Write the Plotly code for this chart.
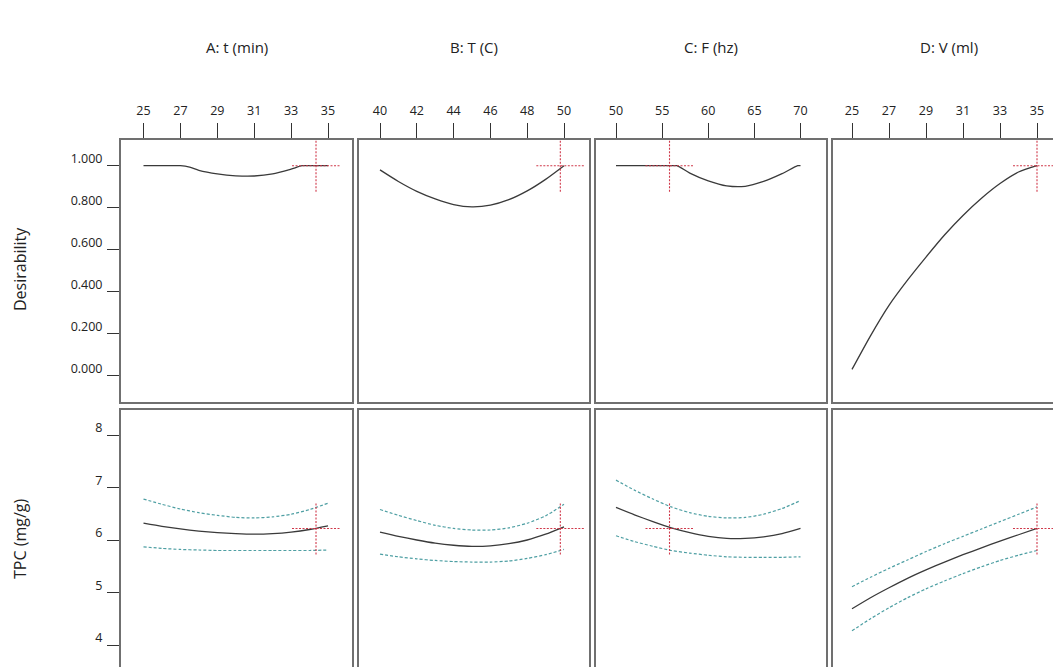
import plotly.graph_objects as go

W, H = 1053, 667

# ---- labels -------------------------------------------------------------
factor_titles = ["A: t (min)", "B: T (C)", "C: F (hz)", "D: V (ml)"]
response_titles = ["Desirability", "TPC (mg/g)"]

factor_ticks = [
    [25, 27, 29, 31, 33, 35],
    [40, 42, 44, 46, 48, 50],
    [50, 55, 60, 65, 70],
    [25, 27, 29, 31, 33, 35],
]
des_ticks = [0.0, 0.2, 0.4, 0.6, 0.8, 1.0]
tpc_ticks = [4, 5, 6, 7, 8]

# ---- factor grids -------------------------------------------------------
t_min = [25, 26, 27, 28, 29, 30, 31, 32, 33, 34, 35]
temp_c = [40, 41, 42, 43, 44, 45, 46, 47, 48, 49, 50]
freq_hz = [50, 52, 54, 56, 58, 60, 62, 64, 66, 68, 70]
vol_ml = [25, 26, 27, 28, 29, 30, 31, 32, 33, 34, 35]

# ---- desirability traces ------------------------------------------------
des_t_x = [25, 26, 27, 27.5, 28, 29, 30, 31, 32, 33, 33.6, 34, 35]
des_t = [1.0, 1.0, 1.0, 0.993, 0.978, 0.961, 0.952, 0.951, 0.961, 0.984, 1.0, 1.0, 1.0]

des_T = [0.980, 0.925, 0.878, 0.842, 0.815, 0.804, 0.812, 0.838, 0.880, 0.935, 1.0]

des_F_x = [50, 52, 54, 56, 56.6, 58, 60, 62, 64, 66, 68, 69.7, 70]
des_F = [1.0, 1.0, 1.0, 1.0, 1.0, 0.965, 0.928, 0.904, 0.902, 0.925, 0.962, 1.0, 1.0]

des_V = [0.03, 0.19, 0.335, 0.455, 0.565, 0.67, 0.763, 0.845, 0.915, 0.97, 1.0]

# ---- TPC prediction with confidence band --------------------------------
tpc_t = [6.32, 6.26, 6.21, 6.17, 6.14, 6.12, 6.11, 6.12, 6.15, 6.20, 6.27]
tpc_t_hi = [6.78, 6.68, 6.59, 6.52, 6.47, 6.43, 6.42, 6.44, 6.49, 6.58, 6.70]
tpc_t_lo = [5.87, 5.84, 5.82, 5.81, 5.80, 5.80, 5.80, 5.80, 5.80, 5.80, 5.81]

tpc_T = [6.15, 6.07, 6.00, 5.94, 5.90, 5.88, 5.89, 5.93, 6.00, 6.11, 6.25]
tpc_T_hi = [6.58, 6.47, 6.37, 6.28, 6.22, 6.19, 6.19, 6.23, 6.32, 6.46, 6.68]
tpc_T_lo = [5.73, 5.68, 5.64, 5.61, 5.59, 5.58, 5.58, 5.60, 5.65, 5.72, 5.82]

tpc_F = [6.62, 6.48, 6.35, 6.23, 6.14, 6.07, 6.03, 6.03, 6.06, 6.12, 6.22]
tpc_F_hi = [7.14, 6.95, 6.78, 6.63, 6.52, 6.45, 6.42, 6.43, 6.49, 6.60, 6.75]
tpc_F_lo = [6.08, 5.97, 5.88, 5.80, 5.75, 5.71, 5.68, 5.67, 5.67, 5.67, 5.68]

tpc_V = [4.69, 4.90, 5.09, 5.27, 5.43, 5.58, 5.72, 5.85, 5.98, 6.10, 6.22]
tpc_V_hi = [5.11, 5.29, 5.46, 5.62, 5.78, 5.93, 6.07, 6.21, 6.35, 6.49, 6.63]
tpc_V_lo = [4.27, 4.50, 4.71, 4.90, 5.07, 5.22, 5.36, 5.49, 5.61, 5.71, 5.80]

# ---- optimum settings (crosshair) ---------------------------------------
opt_factor = [34.35, 49.8, 55.8, 35.0]
opt_des = 1.0
opt_tpc = 6.22

# ---- panel geometry (pixels) --------------------------------------------
col_px = [(120, 353), (358, 590), (595, 827), (832, 1065)]
row_px = [(139, 403), (409, 673)]
# pixel positions of the first and last tick on each factor axis
x_anchor_px = [(143.5, 328.0), (380.0, 564.0), (616.0, 800.5), (852.0, 1037.0)]
# pixel positions of the outer tick values on each response axis
y_anchor_px = [(165.7, 375.7), (435.0, 645.0)]
y_anchor_val = [(1.0, 0.0), (8.0, 4.0)]

CROSS_HX = 24  # half width of crosshair, px
CROSS_HY = 26  # half height of crosshair, px

FONT = "Open Sans"
TXT = "#222222"
LINE_COL = "#3a3a3a"
CI_COL = "#4e9fa3"
RED = "#d0384a"
BORDER = "#707070"

fig = go.Figure()

panel_series = [
    (des_t_x, des_t, t_min, tpc_t, tpc_t_hi, tpc_t_lo),
    (temp_c, des_T, temp_c, tpc_T, tpc_T_hi, tpc_T_lo),
    (des_F_x, des_F, freq_hz, tpc_F, tpc_F_hi, tpc_F_lo),
    (vol_ml, des_V, vol_ml, tpc_V, tpc_V_hi, tpc_V_lo),
]


def x_scale(c):
    p0, p1 = x_anchor_px[c]
    v0, v1 = factor_ticks[c][0], factor_ticks[c][-1]
    return v0, p0, (v1 - v0) / (p1 - p0)  # units per pixel


def y_scale(r):
    p0, p1 = y_anchor_px[r]
    v0, v1 = y_anchor_val[r]
    return v0, p0, (v0 - v1) / (p1 - p0)


layout_axes = {}
for r in range(2):
    for c in range(4):
        k = r * 4 + c + 1
        xa = "x" if k == 1 else f"x{k}"
        ya = "y" if k == 1 else f"y{k}"
        xkey = "xaxis" if k == 1 else f"xaxis{k}"
        ykey = "yaxis" if k == 1 else f"yaxis{k}"

        # visible domain (clipped to the page)
        cx0, cx1 = col_px[c]
        ry0, ry1 = row_px[r]
        vx1 = min(cx1, W)
        vy1 = min(ry1, H)

        xv0, xp0, xupp = x_scale(c)
        yv0, yp0, yupp = y_scale(r)
        xrange = [xv0 + (cx0 - xp0) * xupp, xv0 + (vx1 - xp0) * xupp]
        yrange = [yv0 - (vy1 - yp0) * yupp, yv0 - (ry0 - yp0) * yupp]

        xax = dict(
            domain=[cx0 / W, vx1 / W], range=xrange, anchor=ya,
            showgrid=False, zeroline=False, showline=False, fixedrange=True,
        )
        if r == 0:
            xax.update(
                side="top", ticks="outside", ticklen=15, tickwidth=1,
                tickcolor="#333333", tickvals=factor_ticks[c],
                ticktext=[str(v) for v in factor_ticks[c]],
                tickfont=dict(family=FONT, size=12.5, color=TXT),
                ticklabelstandoff=3,
            )
        else:
            xax.update(showticklabels=False, ticks="")

        yax = dict(
            domain=[1 - vy1 / H, 1 - ry0 / H], range=yrange, anchor=xa,
            showgrid=False, zeroline=False, showline=False, fixedrange=True,
        )
        if c == 0:
            yax.update(
                ticks="outside", ticklen=12, tickwidth=1, tickcolor="#333333",
                tickfont=dict(family=FONT, size=12.5, color=TXT),
                ticklabelshift=-7, ticklabelstandoff=2,
            )
            if r == 0:
                yax.update(tickvals=des_ticks, tickformat=".3f")
            else:
                yax.update(tickvals=tpc_ticks)
        else:
            yax.update(showticklabels=False, ticks="")

        layout_axes[xkey] = xax
        layout_axes[ykey] = yax

        dx, dy, fx, mean, hi, lo = panel_series[c]
        if r == 0:
            fig.add_trace(go.Scatter(
                x=dx, y=dy, mode="lines", xaxis=xa, yaxis=ya,
                line=dict(color=LINE_COL, width=1.3, shape="spline", smoothing=0.7),
                showlegend=False, hoverinfo="skip"))
            oy = opt_des
        else:
            for band in (hi, lo):
                fig.add_trace(go.Scatter(
                    x=fx, y=band, mode="lines", xaxis=xa, yaxis=ya,
                    line=dict(color=CI_COL, width=1.2, dash="3px,2px",
                              shape="spline", smoothing=0.6),
                    showlegend=False, hoverinfo="skip"))
            fig.add_trace(go.Scatter(
                x=fx, y=mean, mode="lines", xaxis=xa, yaxis=ya,
                line=dict(color=LINE_COL, width=1.3, shape="spline", smoothing=0.6),
                showlegend=False, hoverinfo="skip"))
            oy = opt_tpc

        # crosshair at the optimum setting
        ox = opt_factor[c]
        hx = CROSS_HX * xupp
        hy = CROSS_HY * yupp
        fig.add_trace(go.Scatter(
            x=[ox - hx, ox + hx, None, ox, ox], y=[oy, oy, None, oy - hy, oy + hy],
            mode="lines", xaxis=xa, yaxis=ya, cliponaxis=True,
            line=dict(color=RED, width=1.1, dash="2px,1.5px"),
            showlegend=False, hoverinfo="skip"))

# panel borders (paper space; the outer ones run past the page edge)
shapes = []
for r in range(2):
    for c in range(4):
        cx0, cx1 = col_px[c]
        ry0, ry1 = row_px[r]
        shapes.append(dict(
            type="rect", xref="paper", yref="paper",
            x0=cx0 / W, x1=cx1 / W, y0=1 - ry1 / H, y1=1 - ry0 / H,
            line=dict(color=BORDER, width=2), layer="above"))

annotations = []
for c, title in enumerate(factor_titles):
    cx0, cx1 = col_px[c]
    annotations.append(dict(
        text=title, xref="paper", yref="paper",
        x=(cx0 + cx1) / 2 / W, y=1 - 47 / H, showarrow=False,
        font=dict(family=FONT, size=15, color=TXT),
        xanchor="center", yanchor="middle"))
for r, title in enumerate(response_titles):
    ry0, ry1 = row_px[r]
    annotations.append(dict(
        text=title, xref="paper", yref="paper",
        x=20 / W, y=1 - ((ry0 + ry1) / 2 - 2) / H, showarrow=False,
        textangle=-90,
        font=dict(family=FONT, size=16, color=TXT),
        xanchor="center", yanchor="middle"))

fig.update_layout(
    width=W, height=H,
    margin=dict(l=0, r=0, t=0, b=0),
    paper_bgcolor="white", plot_bgcolor="white",
    shapes=shapes, annotations=annotations,
    **layout_axes,
)

fig.write_html("out.html", config={"displayModeBar": False})
